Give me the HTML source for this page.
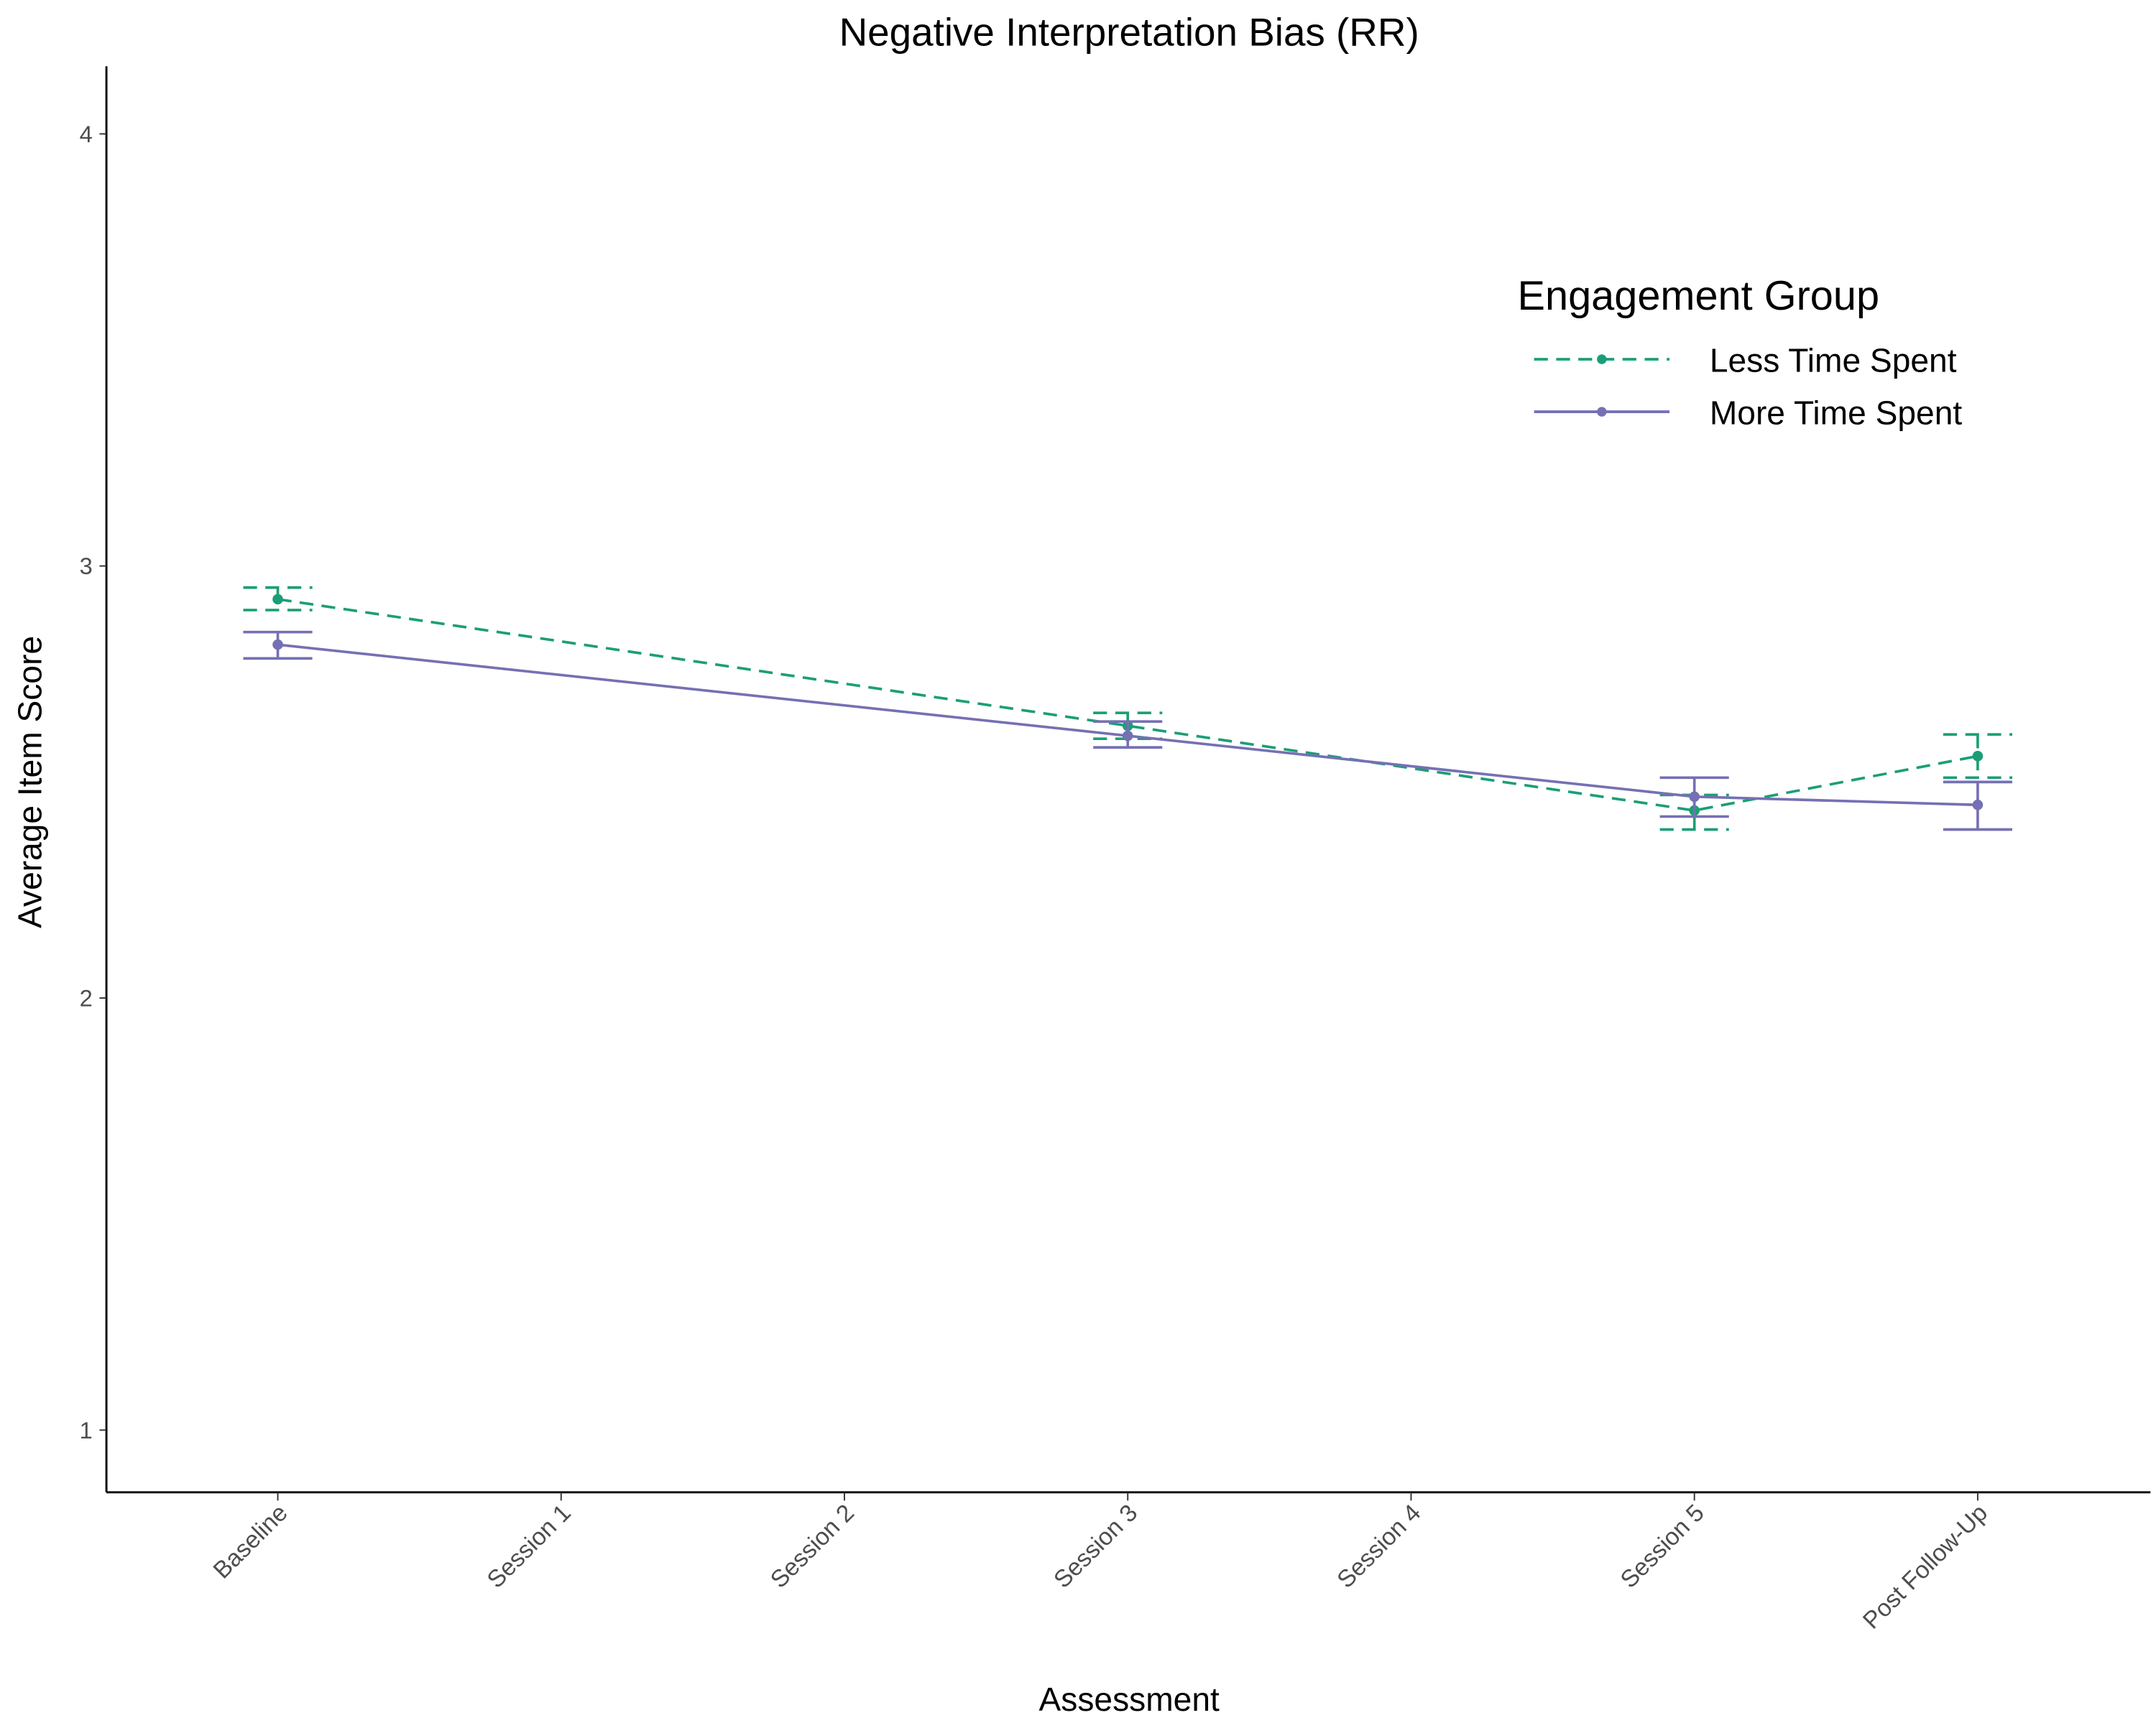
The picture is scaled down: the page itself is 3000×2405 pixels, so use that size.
<!DOCTYPE html>
<html><head><meta charset="utf-8"><style>
body{margin:0;background:#fff}
svg text{font-family:"Liberation Sans",sans-serif}
</style></head><body>
<svg id="chart" width="3000" height="2400" viewBox="0 0 1560 1248" xmlns="http://www.w3.org/2000/svg">
<rect width="1560" height="1248" fill="#fff"/>
<text x="817" y="33" font-size="28.5" text-anchor="middle" fill="#000">Negative Interpretation Bias (RR)</text>
<text x="817" y="1238" font-size="24" text-anchor="middle" fill="#000">Assessment</text>
<text transform="translate(30,566) rotate(-90)" font-size="24" text-anchor="middle" fill="#000">Average Item Score</text>
<g id="axes"></g>
<g id="marks"></g>
<g>
<text x="1098" y="224" font-size="30" fill="#000">Engagement Group</text>
<line x1="1110" y1="260" x2="1208" y2="260" stroke="#1b9e77" stroke-width="2" stroke-dasharray="10,6"/>
<circle cx="1159" cy="260" r="3.5" fill="#1b9e77"/>
<text x="1237" y="269" font-size="24" fill="#000">Less Time Spent</text>
<line x1="1110" y1="298" x2="1208" y2="298" stroke="#7570b3" stroke-width="2"/>
<circle cx="1159" cy="298" r="3.5" fill="#7570b3"/>
<text x="1237" y="307" font-size="24" fill="#000">More Time Spent</text>
</g>
</svg>
<script>
const categories=["Baseline","Session 1","Session 2","Session 3","Session 4","Session 5","Post Follow-Up"];
const yTicks=[1,2,3,4];
const lessIdx=[0,3,5,6];
const lessMean=[2.923,2.63,2.434,2.56];
const lessLo=[2.898,2.60,2.39,2.51];
const lessHi=[2.95,2.66,2.47,2.61];
const moreIdx=[0,3,5,6];
const moreMean=[2.818,2.607,2.466,2.447];
const moreLo=[2.786,2.58,2.42,2.39];
const moreHi=[2.847,2.64,2.51,2.50];

const NS="http://www.w3.org/2000/svg";
const L=77,R=1556,B=1080,T=48;
function xs(i){return 201+205*i;}
function ys(v){return 1035-(v-1)*312.7;}
function mk(tag,attrs,parent){const e=document.createElementNS(NS,tag);for(const k in attrs)e.setAttribute(k,attrs[k]);parent.appendChild(e);return e;}
const axes=document.getElementById('axes'),marks=document.getElementById('marks');
let a=mk('line',{x1:L,y1:T,x2:L,y2:B,stroke:'#000','stroke-width':1.5},axes);


a=mk('line',{x1:L,y1:B,x2:R,y2:B,stroke:'#000','stroke-width':1.5},axes);


yTicks.forEach(v=>{
 const t=mk('line',{x1:L-5,y1:ys(v),x2:L,y2:ys(v),stroke:'#333','stroke-width':1},axes);
 
 
 const tx=mk('text',{x:L-10,y:ys(v)+6,'font-size':17,'text-anchor':'end',fill:'#4d4d4d'},axes);
 tx.textContent=v;
 
 
});
categories.forEach((c,i)=>{
 const t=mk('line',{x1:xs(i),y1:B,x2:xs(i),y2:B+6,stroke:'#333','stroke-width':1},axes);
 
 
 const tx=mk('text',{transform:`translate(${xs(i)+8},${B+16}) rotate(-45)`,'font-size':17.5,'text-anchor':'end',fill:'#4d4d4d'},axes);
 tx.textContent=c;
 
 
});
function series(idx,mean,lo,hi,color,dash,name){
 const g=mk('g',{},marks);
 
 
 const d=idx.map((k,j)=>`${xs(k)},${ys(mean[j])}`).join(' ');
 const p=mk('polyline',{points:d,fill:'none',stroke:color,'stroke-width':1.9,'stroke-dasharray':dash},g);
 
 
 idx.forEach((k,j)=>{
  const x=xs(k);
  const e=mk('path',{d:`M${x-25},${ys(hi[j])}H${x+25}M${x},${ys(hi[j])}V${ys(lo[j])}M${x-25},${ys(lo[j])}H${x+25}`,fill:'none',stroke:color,'stroke-width':1.9,'stroke-dasharray':dash},g);
  
  
  const c=mk('circle',{cx:x,cy:ys(mean[j]),r:3.8,fill:color},g);
  
  
 });
}
series(lessIdx,lessMean,lessLo,lessHi,'#1b9e77','10,6','less-time');
series(moreIdx,moreMean,moreLo,moreHi,'#7570b3','none','more-time');
</script>
</body></html>
